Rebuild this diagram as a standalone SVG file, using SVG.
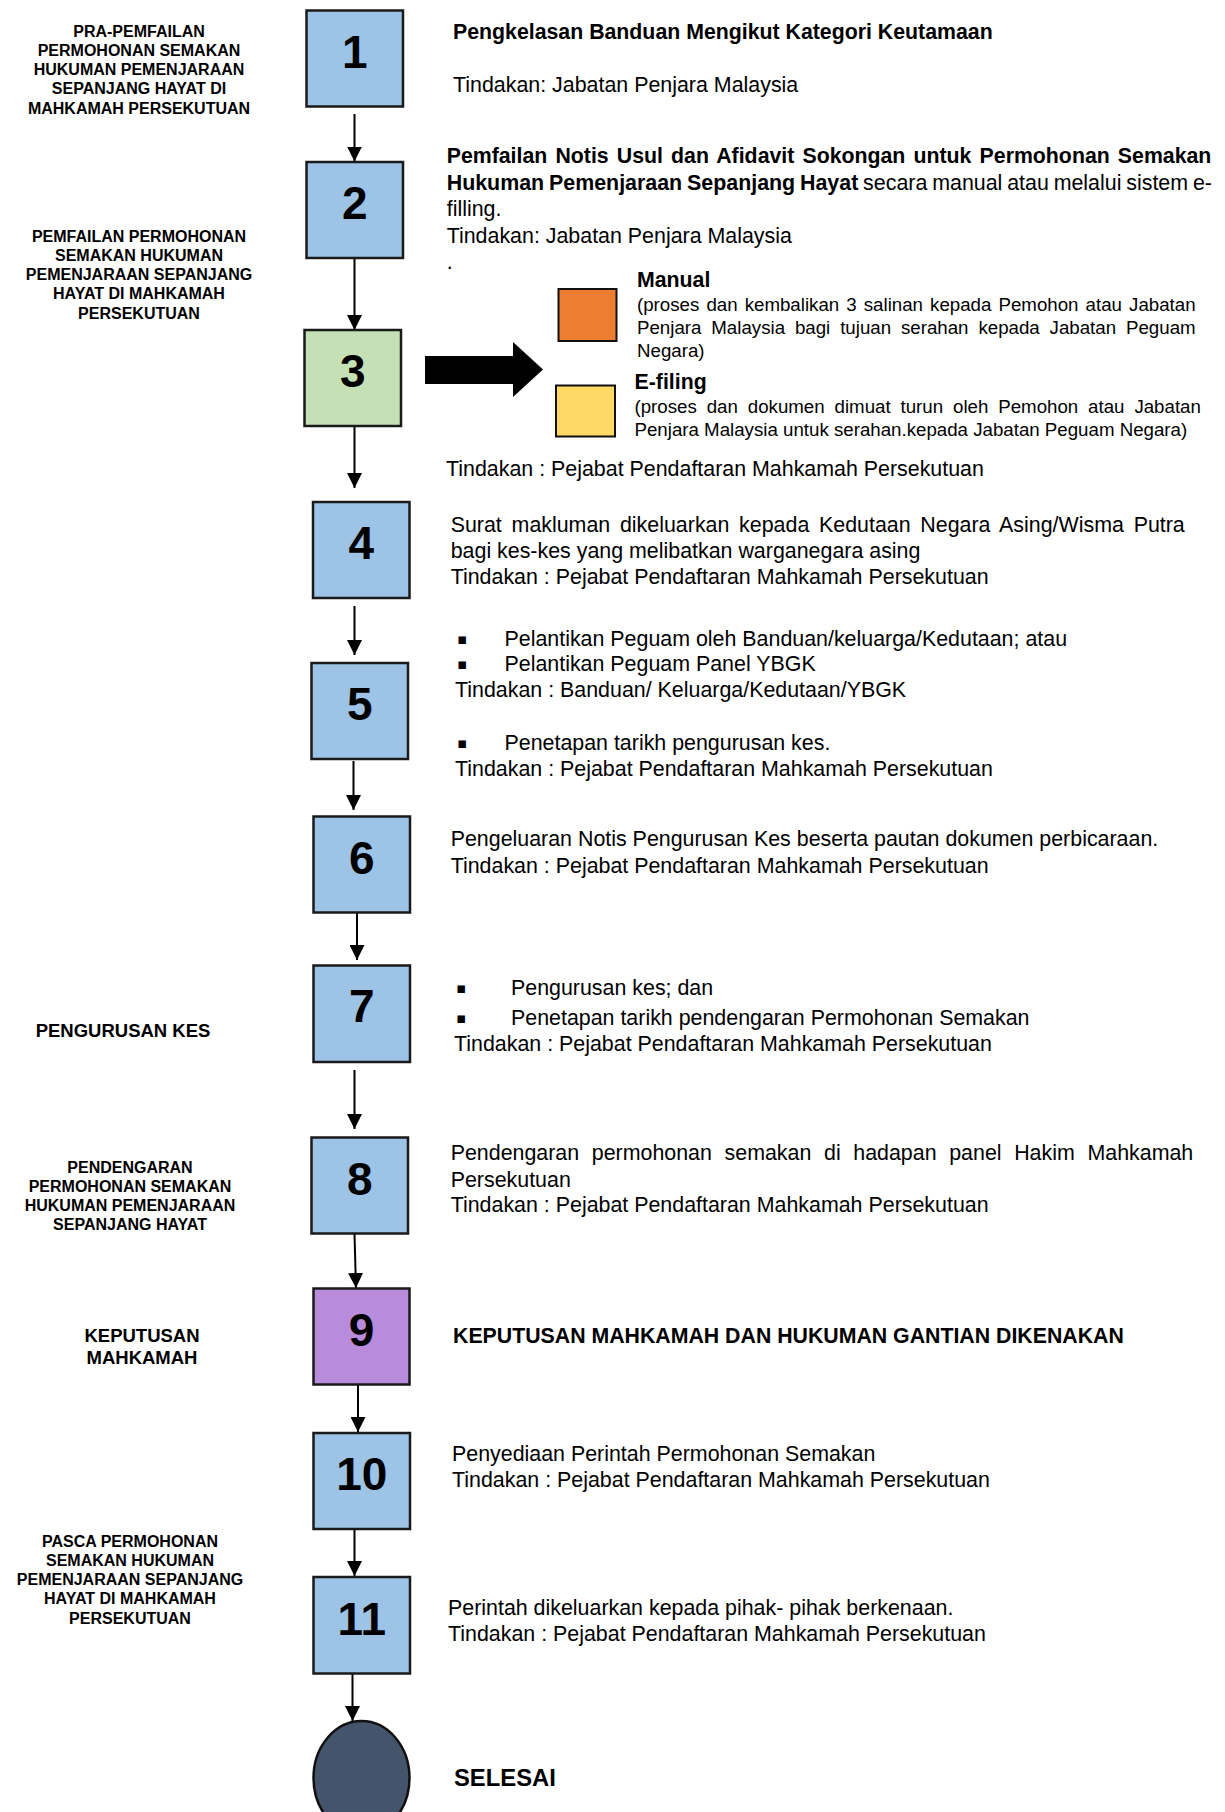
<svg xmlns="http://www.w3.org/2000/svg" width="1225" height="1812" viewBox="0 0 1225 1812">
<defs>
<style>
.box{stroke:#1a1a1a;stroke-width:2.5}
.blue{fill:#9DC3E6}
.green{fill:#C5E0B4}
.purple{fill:#B98BDB}
.num{font-family:"Liberation Sans",Arial,sans-serif;font-weight:bold;font-size:46px;text-anchor:middle;fill:#000}
.lbl{font-family:"Liberation Sans",Arial,sans-serif;font-weight:bold;font-size:16px;text-anchor:middle;fill:#000}
.lblL{font-family:"Liberation Sans",Arial,sans-serif;font-weight:bold;font-size:18.5px;text-anchor:middle;fill:#000}
.t{font-family:"Liberation Sans",Arial,sans-serif;font-size:21.4px;fill:#000}
.tb{font-family:"Liberation Sans",Arial,sans-serif;font-size:21.3px;font-weight:bold;fill:#000}
.ts{font-family:"Liberation Sans",Arial,sans-serif;font-size:18.7px;fill:#000}
.end{font-family:"Liberation Sans",Arial,sans-serif;font-size:23.8px;font-weight:bold;fill:#000}
.bul{font-family:"DejaVu Sans",sans-serif;font-size:15px;fill:#000}
.conn{stroke:#000;stroke-width:2;fill:none}
</style>
<marker id="ah" markerUnits="userSpaceOnUse" markerWidth="15" markerHeight="15" refX="15" refY="7.5" orient="auto">
<path d="M0,0 L15,7.5 L0,15 z" fill="#000"/>
</marker>
</defs>
<rect width="1225" height="1812" fill="#fff"/>

<g id="phase-labels">
<text class="lbl" x="139" y="36.5">PRA-PEMFAILAN</text>
<text class="lbl" x="139" y="55.8">PERMOHONAN SEMAKAN</text>
<text class="lbl" x="139" y="75">HUKUMAN PEMENJARAAN</text>
<text class="lbl" x="139" y="94.3">SEPANJANG HAYAT DI</text>
<text class="lbl" x="139" y="113.5">MAHKAMAH PERSEKUTUAN</text>
<text class="lbl" x="139" y="241.5">PEMFAILAN PERMOHONAN</text>
<text class="lbl" x="139" y="260.8">SEMAKAN HUKUMAN</text>
<text class="lbl" x="139" y="280">PEMENJARAAN SEPANJANG</text>
<text class="lbl" x="139" y="299.2">HAYAT DI MAHKAMAH</text>
<text class="lbl" x="139" y="318.5">PERSEKUTUAN</text>
<text class="lblL" x="123" y="1037">PENGURUSAN KES</text>
<text class="lbl" x="130" y="1172.5">PENDENGARAN</text>
<text class="lbl" x="130" y="1191.8">PERMOHONAN SEMAKAN</text>
<text class="lbl" x="130" y="1211">HUKUMAN PEMENJARAAN</text>
<text class="lbl" x="130" y="1230.3">SEPANJANG HAYAT</text>
<text class="lblL" x="142" y="1341.5">KEPUTUSAN</text>
<text class="lblL" x="142" y="1364">MAHKAMAH</text>
<text class="lbl" x="130" y="1546.5">PASCA PERMOHONAN</text>
<text class="lbl" x="130" y="1565.8">SEMAKAN HUKUMAN</text>
<text class="lbl" x="130" y="1585">PEMENJARAAN SEPANJANG</text>
<text class="lbl" x="130" y="1604.3">HAYAT DI MAHKAMAH</text>
<text class="lbl" x="130" y="1623.5">PERSEKUTUAN</text>
</g>

<g id="connectors">
<line class="conn" x1="354.5" y1="114" x2="354.5" y2="161.5" marker-end="url(#ah)"/>
<line class="conn" x1="354.5" y1="258" x2="354.5" y2="330" marker-end="url(#ah)"/>
<line class="conn" x1="354.5" y1="426" x2="354.5" y2="488" marker-end="url(#ah)"/>
<line class="conn" x1="354.5" y1="606" x2="354.5" y2="655" marker-end="url(#ah)"/>
<line class="conn" x1="353.5" y1="761" x2="353.5" y2="810" marker-end="url(#ah)"/>
<line class="conn" x1="357" y1="913" x2="357" y2="960" marker-end="url(#ah)"/>
<line class="conn" x1="354.5" y1="1070" x2="354.5" y2="1129" marker-end="url(#ah)"/>
<line class="conn" x1="354.5" y1="1234" x2="356" y2="1288" marker-end="url(#ah)"/>
<line class="conn" x1="358" y1="1385" x2="358" y2="1432" marker-end="url(#ah)"/>
<line class="conn" x1="354.5" y1="1529" x2="354.5" y2="1576" marker-end="url(#ah)"/>
<line class="conn" x1="352.5" y1="1673" x2="352.5" y2="1721" marker-end="url(#ah)"/>
<polygon points="425,356 513,356 513,342 543,369.5 513,397 513,384 425,384" fill="#000"/>
</g>

<g id="node-1">
<rect class="box blue" x="306.5" y="10.5" width="96.5" height="96"/>
<text class="num" x="354.8" y="67.5">1</text>
</g>
<g id="node-2">
<rect class="box blue" x="306.5" y="162" width="96.5" height="96"/>
<text class="num" x="354.8" y="219">2</text>
</g>
<g id="node-3">
<rect class="box green" x="304.5" y="330" width="96.5" height="96"/>
<text class="num" x="352.8" y="387">3</text>
</g>
<g id="node-4">
<rect class="box blue" x="313" y="502" width="96.5" height="96"/>
<text class="num" x="361.3" y="559">4</text>
</g>
<g id="node-5">
<rect class="box blue" x="311.5" y="663" width="96.5" height="96"/>
<text class="num" x="359.8" y="720">5</text>
</g>
<g id="node-6">
<rect class="box blue" x="313.5" y="816.5" width="96.5" height="96"/>
<text class="num" x="361.8" y="873.5">6</text>
</g>
<g id="node-7">
<rect class="box blue" x="313.5" y="965.5" width="96.5" height="96.5"/>
<text class="num" x="361.8" y="1022">7</text>
</g>
<g id="node-8">
<rect class="box blue" x="311.5" y="1137.5" width="96.5" height="96"/>
<text class="num" x="359.8" y="1195">8</text>
</g>
<g id="node-9">
<rect class="box purple" x="313.5" y="1288.5" width="96" height="96"/>
<text class="num" x="361.5" y="1345.5">9</text>
</g>
<g id="node-10">
<rect class="box blue" x="313.5" y="1433" width="96.5" height="96"/>
<text class="num" x="361.8" y="1490">10</text>
</g>
<g id="node-11">
<rect class="box blue" x="313.5" y="1577" width="96.5" height="96.5"/>
<text class="num" x="361.8" y="1634.5">11</text>
</g>
<g id="node-end">
<ellipse cx="361.5" cy="1778" rx="48" ry="57" fill="#44546A" stroke="#111" stroke-width="2.5"/>
</g>

<g id="opt-manual">
<rect x="558.5" y="289" width="58" height="52" fill="#ED7D31" stroke="#111" stroke-width="2"/>
</g>
<g id="opt-efiling">
<rect x="556" y="385.5" width="59" height="51" fill="#FFD966" stroke="#111" stroke-width="2"/>
</g>

<g id="desc-1">
<text class="tb" x="453" y="39">Pengkelasan Banduan Mengikut Kategori Keutamaan</text>
<text class="t" x="453" y="91.5">Tindakan: Jabatan Penjara Malaysia</text>
</g>
<g id="desc-2">
<text class="tb" x="446.7" y="163" word-spacing="2.2">Pemfailan Notis Usul dan Afidavit Sokongan untuk Permohonan Semakan</text>
<text class="t" x="446.7" y="190" word-spacing="-1.1"><tspan font-weight="bold">Hukuman Pemenjaraan Sepanjang Hayat</tspan> secara manual atau melalui sistem e-</text>
<text class="t" x="446.7" y="216">filling.</text>
<text class="t" x="446.7" y="243">Tindakan: Jabatan Penjara Malaysia</text>
<text class="t" x="446.7" y="268.5">.</text>
</g>
<g id="desc-3">
<text class="tb" x="637" y="286.5">Manual</text>
<text class="ts" x="637" y="311" word-spacing="1.9">(proses dan kembalikan 3 salinan kepada Pemohon atau Jabatan</text>
<text class="ts" x="637" y="334" word-spacing="4.7">Penjara Malaysia bagi tujuan serahan kepada Jabatan Peguam</text>
<text class="ts" x="637" y="357">Negara)</text>
<text class="tb" x="634.5" y="389">E-filing</text>
<text class="ts" x="634.5" y="413" word-spacing="4.7">(proses dan dokumen dimuat turun oleh Pemohon atau Jabatan</text>
<text class="ts" x="634.5" y="436">Penjara Malaysia untuk serahan.kepada Jabatan Peguam Negara)</text>
<text class="t" x="446" y="476">Tindakan : Pejabat Pendaftaran Mahkamah Persekutuan</text>
</g>
<g id="desc-4">
<text class="t" x="450.7" y="532" word-spacing="3.8">Surat makluman dikeluarkan kepada Kedutaan Negara Asing/Wisma Putra</text>
<text class="t" x="450.7" y="558">bagi kes-kes yang melibatkan warganegara asing</text>
<text class="t" x="450.7" y="584">Tindakan : Pejabat Pendaftaran Mahkamah Persekutuan</text>
</g>
<g id="desc-5">
<text class="bul" x="457" y="644">▪</text>
<text class="t" x="504.5" y="646">Pelantikan Peguam oleh Banduan/keluarga/Kedutaan; atau</text>
<text class="bul" x="457" y="668.5">▪</text>
<text class="t" x="504.5" y="670.5">Pelantikan Peguam Panel YBGK</text>
<text class="t" x="455" y="697">Tindakan : Banduan/ Keluarga/Kedutaan/YBGK</text>
<text class="bul" x="457" y="748">▪</text>
<text class="t" x="504.5" y="750">Penetapan tarikh pengurusan kes.</text>
<text class="t" x="455" y="775.5">Tindakan : Pejabat Pendaftaran Mahkamah Persekutuan</text>
</g>
<g id="desc-6">
<text class="t" x="450.7" y="846">Pengeluaran Notis Pengurusan Kes beserta pautan dokumen perbicaraan.</text>
<text class="t" x="450.7" y="872.5">Tindakan : Pejabat Pendaftaran Mahkamah Persekutuan</text>
</g>
<g id="desc-7">
<text class="bul" x="456" y="992.5">▪</text>
<text class="t" x="511" y="995">Pengurusan kes; dan</text>
<text class="bul" x="456" y="1022.5">▪</text>
<text class="t" x="511" y="1025">Penetapan tarikh pendengaran Permohonan Semakan</text>
<text class="t" x="454" y="1050.5">Tindakan : Pejabat Pendaftaran Mahkamah Persekutuan</text>
</g>
<g id="desc-8">
<text class="t" x="450.7" y="1160" word-spacing="6.7">Pendengaran permohonan semakan di hadapan panel Hakim Mahkamah</text>
<text class="t" x="450.7" y="1186.5">Persekutuan</text>
<text class="t" x="450.7" y="1212">Tindakan : Pejabat Pendaftaran Mahkamah Persekutuan</text>
</g>
<g id="desc-9">
<text class="tb" x="453" y="1343">KEPUTUSAN MAHKAMAH DAN HUKUMAN GANTIAN DIKENAKAN</text>
</g>
<g id="desc-10">
<text class="t" x="452" y="1461">Penyediaan Perintah Permohonan Semakan</text>
<text class="t" x="452" y="1487">Tindakan : Pejabat Pendaftaran Mahkamah Persekutuan</text>
</g>
<g id="desc-11">
<text class="t" x="448" y="1614.5">Perintah dikeluarkan kepada pihak- pihak berkenaan.</text>
<text class="t" x="448" y="1641">Tindakan : Pejabat Pendaftaran Mahkamah Persekutuan</text>
</g>
<g id="desc-end">
<text class="end" x="454" y="1786">SELESAI</text>
</g>
</svg>
